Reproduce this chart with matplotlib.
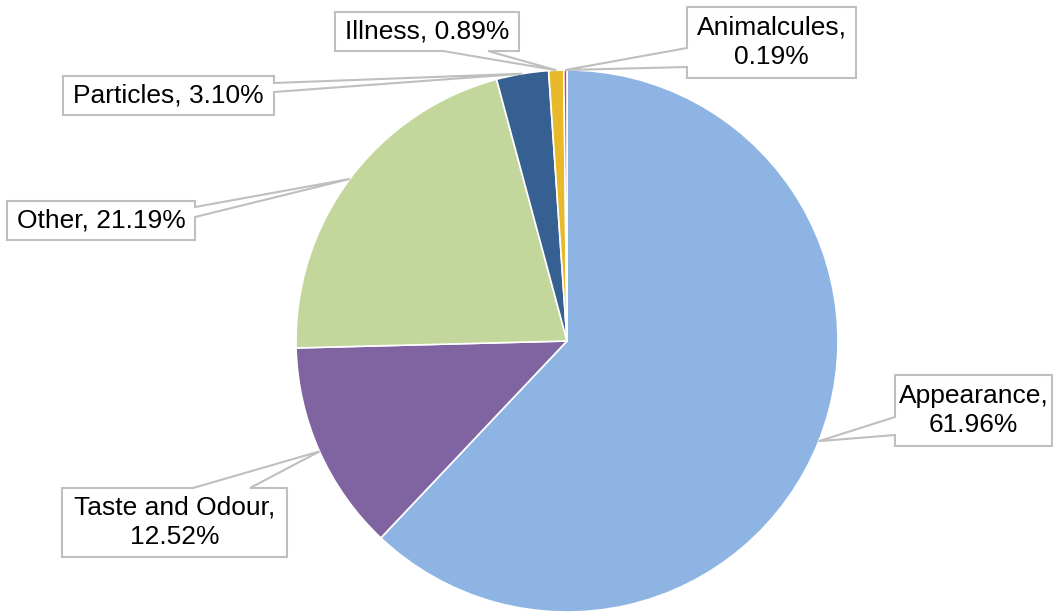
import numpy as np
import matplotlib.pyplot as plt
from matplotlib.patches import Polygon

# slice data, clockwise from 12 o'clock
labels = ['Appearance', 'Taste and Odour', 'Other', 'Particles', 'Illness', 'Animalcules']
shares = [61.96, 12.52, 21.19, 3.10, 0.89, 0.19]
colors = ['#8EB4E3', '#8064A2', '#C3D69B', '#366092', '#E8B92A', '#C0504D']
label_text = ['Appearance,\n61.96%', 'Taste and Odour,\n12.52%', 'Other, 21.19%',
              'Particles, 3.10%', 'Illness, 0.89%', 'Animalcules,\n0.19%']

# callout boxes in pixel coords (left, top, right, bottom), notch side and notch span
boxes = [(895, 375, 1052, 446), (62, 488, 287, 557), (7, 201, 195, 240),
         (63, 76, 274, 115), (335, 12, 519, 51), (687, 7, 856, 78)]
notches = [('left', 417, 435), ('top', 193, 250), ('right', 207, 217),
           ('right', 83, 92), ('bottom', 443, 488), ('left', 48, 67)]

W, H = 1054, 613
cx, cy, R = 567, H - 341, 271

fig = plt.figure(figsize=(W / 100, H / 100), dpi=100)
ax = fig.add_axes([0, 0, 1, 1])

ax.pie(shares, colors=colors, startangle=90, counterclock=False, center=(cx, cy),
       radius=R, wedgeprops=dict(edgecolor='white', linewidth=1.2))
ax.set_xlim(0, W)
ax.set_ylim(0, H)
ax.set_aspect('auto')
ax.axis('off')

fracs = np.array(shares) / sum(shares)
ends = 90 - 360 * np.cumsum(fracs)
mids = ends + 180 * fracs

for i in range(len(labels)):
    x0, t0, x1, b0 = boxes[i]
    y0, y1 = H - b0, H - t0  # bottom, top in data coords
    th = np.radians(mids[i])
    tip = (cx + R * np.cos(th), cy + R * np.sin(th))
    side, a, b = notches[i]
    if side == 'left':
        pa, pb = H - a, H - b
        pts = [(x0, y1), (x1, y1), (x1, y0), (x0, y0), (x0, pb), tip, (x0, pa)]
    elif side == 'right':
        pa, pb = H - a, H - b
        pts = [(x0, y1), (x1, y1), (x1, pa), tip, (x1, pb), (x1, y0), (x0, y0)]
    elif side == 'top':
        pts = [(x0, y1), (a, y1), tip, (b, y1), (x1, y1), (x1, y0), (x0, y0)]
    else:
        pts = [(x0, y1), (x1, y1), (x1, y0), (b, y0), tip, (a, y0), (x0, y0)]
    ax.add_patch(Polygon(pts, closed=True, facecolor='white', edgecolor='#BFBFBF',
                         linewidth=1.5, zorder=3))
    ax.text((x0 + x1) / 2, (y0 + y1) / 2, label_text[i], ha='center', va='center',
            fontsize=19, family='Liberation Sans', linespacing=1.3, zorder=4)

fig.savefig('out.png', dpi=100)
